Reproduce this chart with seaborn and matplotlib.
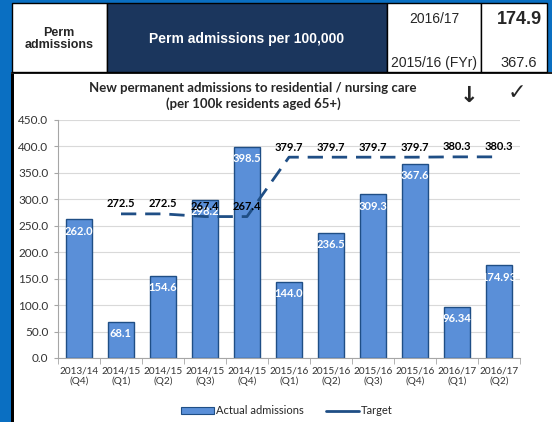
import numpy as np
import pandas as pd
import matplotlib.pyplot as plt
import seaborn as sns
from matplotlib.patches import Rectangle
from matplotlib.lines import Line2D
from matplotlib.ticker import FixedLocator

# data
periods = ['2013/14\n(Q4)', '2014/15\n(Q1)', '2014/15\n(Q2)', '2014/15\n(Q3)', '2014/15\n(Q4)',
           '2015/16\n(Q1)', '2015/16\n(Q2)', '2015/16\n(Q3)', '2015/16\n(Q4)', '2016/17\n(Q1)',
           '2016/17\n(Q2)']
actual = [262.0, 68.1, 154.6, 298.2, 398.5, 144.0, 236.5, 309.3, 367.6, 96.34, 174.93]
actual_labels = ['262.0', '68.1', '154.6', '298.2', '398.5', '144.0', '236.5', '309.3', '367.6',
                 '96.34', '174.93']
target = [np.nan, 272.5, 272.5, 267.4, 267.4, 379.7, 379.7, 379.7, 379.7, 380.3, 380.3]

# header table values
row_label = 'Perm\nadmissions'
measure = 'Perm admissions per 100,000'
year_labels = ['2016/17', '2015/16 (FYr)']
year_values = ['174.9', '367.6']

df = pd.DataFrame({'period': periods, 'actual': actual})

sns.set_style('white')
plt.rcParams['font.family'] = ['Lato', 'DejaVu Sans']

W, H = 552, 422
fig = plt.figure(figsize=(W / 100, H / 100), dpi=100)
fig.patch.set_facecolor('#0A6FC2')


def px_rect(x0, y0, x1, y1, **kw):
    # rectangle given in pixel coords (top-left origin), kept behind the axes
    r = Rectangle((x0 / W, 1 - y1 / H), (x1 - x0) / W, (y1 - y0) / H,
                  transform=fig.transFigure, zorder=-5, **kw)
    fig.patches.append(r)


def px_text(x, y, s, **kw):
    fig.text(x / W, 1 - y / H, s, ha='center', va='center', **kw)


# chart panel
px_rect(11, 72, W + 2, H + 2, facecolor='white', edgecolor='none')
px_rect(11, 72, 14, H + 2, facecolor='black', edgecolor='none')
px_rect(11, 72, W + 2, 74, facecolor='#222222', edgecolor='none')

# header table
px_rect(12, 3, 107, 72, facecolor='white', edgecolor='black', lw=1)
px_rect(107, 3, 387, 72, facecolor='#1B365D', edgecolor='black', lw=1)
px_rect(387, 3, 481, 72, facecolor='white', edgecolor='black', lw=1)
px_rect(481, 3, 547, 72, facecolor='white', edgecolor='black', lw=1)

tfont = ['Liberation Sans', 'DejaVu Sans']
px_text(59, 39, row_label, family=tfont, fontsize=9, fontweight='bold', linespacing=1.0)
px_text(247, 39, measure, family=tfont, fontsize=10, fontweight='bold', color='white')
px_text(434, 19, year_labels[0], family=tfont, fontsize=10)
px_text(434, 63, year_labels[1], family=tfont, fontsize=10)
px_text(519, 20, year_values[0], family=tfont, fontsize=13, fontweight='bold')
px_text(519, 63, year_values[1], family=tfont, fontsize=10.5)

# chart
ax = fig.add_axes([58 / W, 1 - 358 / H, 462 / W, 238 / H])
sns.barplot(data=df, x='period', y='actual', color='#5A8FD8', edgecolor='#1F4E85',
            linewidth=1.0, width=0.6, saturation=1, ax=ax)
xs = np.arange(len(periods))
ax.plot(xs, target, color='#1F4E85', lw=2, dashes=(5.5, 3.2))

for x, v, s in zip(xs, actual, actual_labels):
    ax.text(x, v - 22, s, ha='center', va='center', color='white', fontsize=8,
            fontweight='bold')
for x, v in zip(xs, target):
    if not np.isnan(v):
        ax.text(x, v + 19, f'{v:.1f}', ha='center', va='center', color='black',
                fontsize=8, fontweight='bold')

ax.set_ylim(0, 450)
ax.set_xlim(-0.5, len(periods) - 0.5)
ax.set_yticks(np.arange(0, 451, 50))
ax.set_yticklabels([f'{v:.1f}' for v in np.arange(0, 451, 50)], fontsize=8.5, color='#333333')
ax.tick_params(axis='x', labelsize=7.2, labelcolor='#333333', length=0, pad=6)
ax.tick_params(axis='y', length=3, color='#A6A6A6', left=True, pad=4)
ax.xaxis.set_minor_locator(FixedLocator(np.arange(-0.5, len(periods), 1)))
ax.tick_params(axis='x', which='minor', length=4, color='#A6A6A6', bottom=True)
ax.set_xlabel('')
ax.set_ylabel('')
ax.grid(axis='y', color='#D9D9D9', lw=0.8)
ax.set_axisbelow(True)
for side in ['top', 'right']:
    ax.spines[side].set_visible(False)
ax.spines['left'].set_color('#A6A6A6')
ax.spines['bottom'].set_color('#A6A6A6')

# title and status marks
px_text(253, 88, 'New permanent admissions to residential / nursing care', fontsize=9.5,
        fontweight='bold')
px_text(253, 104, '(per 100k residents aged 65+)', fontsize=9.5, fontweight='bold')
px_text(469, 96, '\u2193', family=['DejaVu Sans'], fontsize=16, fontweight='bold')
px_text(517, 93, '\u2713', family=['DejaVu Sans'], fontsize=16, fontweight='bold')

# legend
handles = [Rectangle((0, 0), 1, 1, facecolor='#5A8FD8', edgecolor='#1F4E85', lw=0.8),
           Line2D([], [], color='#1F4E85', lw=2)]
fig.legend(handles, ['Actual admissions', 'Target'], loc='center',
           bbox_to_anchor=(287 / W, 1 - 411 / H), ncol=2, frameon=False, fontsize=8,
           handlelength=3.0, handleheight=0.5, columnspacing=2.0, handletextpad=0.15)

fig.savefig('out.png', dpi=100, facecolor=fig.get_facecolor())
